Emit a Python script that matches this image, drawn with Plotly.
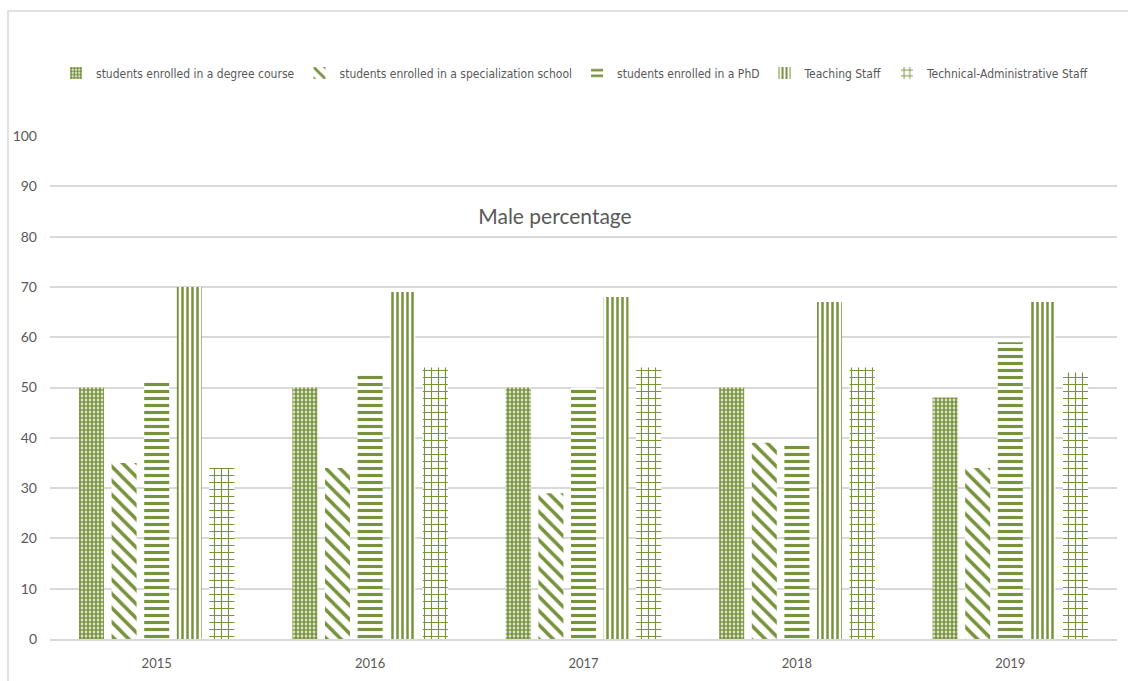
import plotly.graph_objects as go

years = ["2015", "2016", "2017", "2018", "2019"]

degree_course = [50, 50, 50, 50, 48]
specialization_school = [35, 34, 29, 39, 34]
phd = [51, 52.5, 50, 39, 59]
teaching_staff = [70, 69, 68, 67, 67]
tech_admin_staff = [34, 54, 54, 54, 53]

series_names = [
    "students enrolled in a degree course",
    "students enrolled in a specialization school",
    "students enrolled in a PhD",
    "Teaching Staff",
    "Technical-Administrative Staff",
]
series_values = [degree_course, specialization_school, phd, teaching_staff, tech_admin_staff]

GREEN = "#77933C"
GRID = "#D9D9D9"
TEXT = "#595959"
FONT = "Lato"
NARROW = "DejaVu Sans Condensed, Lato"

# hatch style per series: (shape, size, solidity)
patterns = [
    (".", 4, 0.7),
    ("\\", 10, 0.35),
    ("-", 7, 0.45),
    ("|", 5, 0.5),
    ("+", 7, 0.3),
]

fig = go.Figure()
for name, vals, (shape, size, solid) in zip(series_names, series_values, patterns):
    fig.add_trace(go.Bar(
        x=years,
        y=vals,
        name=name,
        marker=dict(
            color="white",
            line=dict(width=0),
            pattern=dict(shape=shape, size=size, solidity=solid,
                         fgcolor=GREEN, bgcolor="white", fillmode="replace"),
        ),
    ))

W, H = 1128, 681
L, R, T, B = 50, 11, 136, 42
plot_w = W - L - R
plot_h = H - T - B

def px_to_paper_x(px):
    return (px - L) / plot_w

def px_to_paper_y(py):
    return (H - B - py) / plot_h

fig.update_layout(
    width=W,
    height=H,
    margin=dict(l=L, r=R, t=T, b=B),
    paper_bgcolor="white",
    plot_bgcolor="white",
    barmode="group",
    bargap=0.236,
    bargroupgap=0.233,
    font=dict(family=FONT, color=TEXT, size=14),
    title=dict(
        text="Male percentage",
        x=0.5 - 9 / W,
        xanchor="center",
        y=1 - 217 / H,
        yanchor="middle",
        yref="container",
        font=dict(family=FONT, size=21, color=TEXT),
    ),
    legend=dict(
        orientation="h",
        x=px_to_paper_x(575),
        xanchor="center",
        y=px_to_paper_y(73),
        yanchor="middle",
        font=dict(family=NARROW, size=12, color=TEXT),
        itemwidth=30,
        traceorder="normal",
    ),
    xaxis=dict(
        showgrid=False,
        showline=True,
        linecolor=GRID,
        linewidth=1.5,
        ticks="",
        ticklabelstandoff=12,
        tickfont=dict(family=FONT, size=13, color=TEXT),
    ),
    yaxis=dict(
        range=[0, 100],
        dtick=10,
        showgrid=True,
        gridcolor=GRID,
        gridwidth=1.5,
        zeroline=False,
        showline=False,
        ticks="",
        ticklabelstandoff=12,
        tickfont=dict(family=FONT, size=14, color=TEXT),
    ),
    shapes=[
        dict(
            type="rect",
            xref="paper",
            yref="paper",
            x0=px_to_paper_x(8),
            x1=px_to_paper_x(W + 20),
            y0=px_to_paper_y(H + 20),
            y1=px_to_paper_y(11),
            line=dict(color=GRID, width=1.5),
            fillcolor="rgba(0,0,0,0)",
            layer="below",
        )
    ],
)

fig.write_html("out.html")
